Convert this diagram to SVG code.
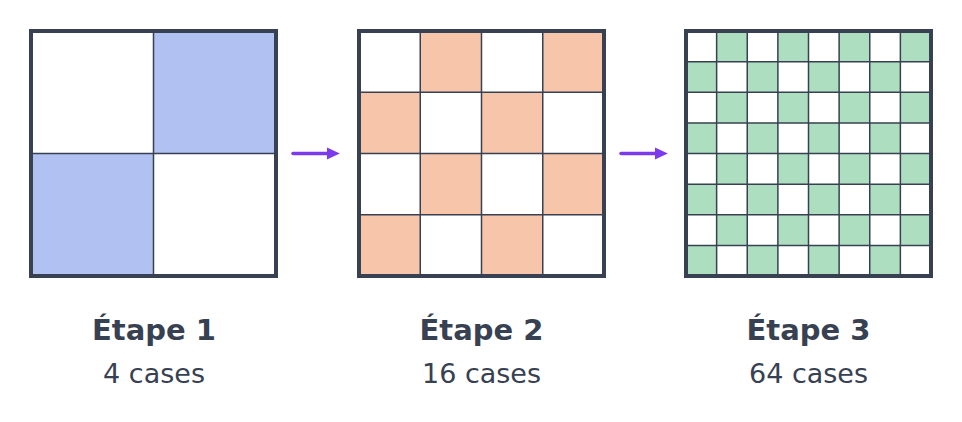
<svg xmlns="http://www.w3.org/2000/svg" width="962" height="422" viewBox="0 0 962 422">
<style>
.g{stroke:#374151;stroke-width:1.5}
.b{fill:#b0c1f2}.o{fill:#f7c5aa}.v{fill:#aedec0}
.frame{fill:none;stroke:#374151;stroke-width:4}
.t{font-family:"DejaVu Sans",sans-serif;fill:#374151;text-anchor:middle}
.t1{font-size:29px;font-weight:bold}
.t2{font-size:27px}
.arr{stroke:#7c3aed;stroke-width:3.5;fill:none;stroke-linecap:round}
</style>
<defs>
<marker id="ah" markerWidth="4.5" markerHeight="4" refX="1" refY="2" orient="auto" markerUnits="strokeWidth">
<path d="M0,0.2 L3.8,2 L0,3.8 Z" fill="#7c3aed"/>
</marker>
</defs>
<rect width="962" height="422" fill="#ffffff"/>
<g id="etape1">
<rect x="31" y="31" width="245" height="245" fill="#fff"/>
<rect class="b" x="153.5" y="31" width="122.5" height="122.5"/>
<rect class="b" x="31" y="153.5" width="122.5" height="122.5"/>
<path class="g" d="M153.5 31V276M31 153.5H276"/>
<rect class="frame" x="31" y="31" width="245" height="245"/>
<text class="t t1" x="154" y="340">Étape 1</text>
<text class="t t2" x="154" y="383">4 cases</text>
</g>
<g id="etape2">
<rect x="359" y="31" width="245" height="245" fill="#fff"/>
<g class="o">
<rect x="420.25" y="31" width="61.25" height="61.25"/><rect x="542.75" y="31" width="61.25" height="61.25"/>
<rect x="359" y="92.25" width="61.25" height="61.25"/><rect x="481.5" y="92.25" width="61.25" height="61.25"/>
<rect x="420.25" y="153.5" width="61.25" height="61.25"/><rect x="542.75" y="153.5" width="61.25" height="61.25"/>
<rect x="359" y="214.75" width="61.25" height="61.25"/><rect x="481.5" y="214.75" width="61.25" height="61.25"/>
</g>
<path class="g" d="M420.25 31V276M481.5 31V276M542.75 31V276M359 92.25H604M359 153.5H604M359 214.75H604"/>
<rect class="frame" x="359" y="31" width="245" height="245"/>
<text class="t t1" x="481.5" y="340">Étape 2</text>
<text class="t t2" x="481.5" y="383">16 cases</text>
</g>
<g id="etape3">
<rect x="686" y="31" width="245" height="245" fill="#fff"/>
<g class="v">
<rect x="716.625" y="31" width="30.625" height="30.625"/><rect x="777.875" y="31" width="30.625" height="30.625"/><rect x="839.125" y="31" width="30.625" height="30.625"/><rect x="900.375" y="31" width="30.625" height="30.625"/>
<rect x="686" y="61.625" width="30.625" height="30.625"/><rect x="747.25" y="61.625" width="30.625" height="30.625"/><rect x="808.5" y="61.625" width="30.625" height="30.625"/><rect x="869.75" y="61.625" width="30.625" height="30.625"/>
<rect x="716.625" y="92.25" width="30.625" height="30.625"/><rect x="777.875" y="92.25" width="30.625" height="30.625"/><rect x="839.125" y="92.25" width="30.625" height="30.625"/><rect x="900.375" y="92.25" width="30.625" height="30.625"/>
<rect x="686" y="122.875" width="30.625" height="30.625"/><rect x="747.25" y="122.875" width="30.625" height="30.625"/><rect x="808.5" y="122.875" width="30.625" height="30.625"/><rect x="869.75" y="122.875" width="30.625" height="30.625"/>
<rect x="716.625" y="153.5" width="30.625" height="30.625"/><rect x="777.875" y="153.5" width="30.625" height="30.625"/><rect x="839.125" y="153.5" width="30.625" height="30.625"/><rect x="900.375" y="153.5" width="30.625" height="30.625"/>
<rect x="686" y="184.125" width="30.625" height="30.625"/><rect x="747.25" y="184.125" width="30.625" height="30.625"/><rect x="808.5" y="184.125" width="30.625" height="30.625"/><rect x="869.75" y="184.125" width="30.625" height="30.625"/>
<rect x="716.625" y="214.75" width="30.625" height="30.625"/><rect x="777.875" y="214.75" width="30.625" height="30.625"/><rect x="839.125" y="214.75" width="30.625" height="30.625"/><rect x="900.375" y="214.75" width="30.625" height="30.625"/>
<rect x="686" y="245.375" width="30.625" height="30.625"/><rect x="747.25" y="245.375" width="30.625" height="30.625"/><rect x="808.5" y="245.375" width="30.625" height="30.625"/><rect x="869.75" y="245.375" width="30.625" height="30.625"/>
</g>
<path class="g" d="M716.625 31V276M747.25 31V276M777.875 31V276M808.5 31V276M839.125 31V276M869.75 31V276M900.375 31V276M686 61.625H931M686 92.25H931M686 122.875H931M686 153.5H931M686 184.125H931M686 214.75H931M686 245.375H931"/>
<rect class="frame" x="686" y="31" width="245" height="245"/>
<text class="t t1" x="808.5" y="340">Étape 3</text>
<text class="t t2" x="808.5" y="383">64 cases</text>
</g>
<g id="connectors">
<path class="arr" d="M293 153.5H330" marker-end="url(#ah)"/>
<path class="arr" d="M621 153.5H658" marker-end="url(#ah)"/>
</g>
</svg>
